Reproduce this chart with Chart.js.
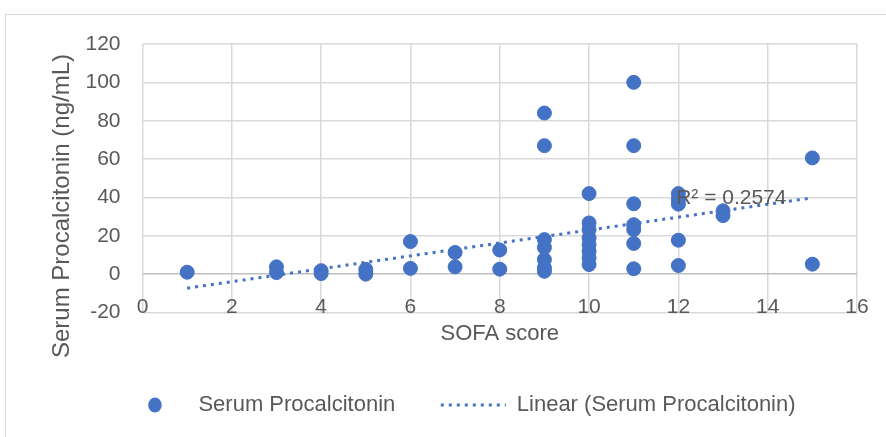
<!DOCTYPE html>
<html>
<head>
<meta charset="utf-8">
<script src="https://cdn.jsdelivr.net/npm/chart.js@4.4.1/dist/chart.umd.min.js"></script>
<style>
  html, body { margin: 0; padding: 0; background: #fff; overflow: hidden; }
  #frame { position: absolute; left: 5px; top: 14px; width: 900px; height: 450px; border: 1.5px solid #d9d9d9; }
  #wrap { position: absolute; left: 0; top: 0; width: 886px; height: 437px; }
</style>
</head>
<body>
<div id="frame"></div>
<div id="wrap"><canvas id="myGrafic" width="886" height="437"></canvas></div>
<script>
// SOFA score / procalcitonin pairs
let sofa = [1, 3, 3, 4, 4, 5, 5, 6, 6, 7, 7, 8, 8,
            9, 9, 9, 9, 9, 9, 9,
            10, 10, 10, 10, 10, 10, 10, 10,
            11, 11, 11, 11, 11, 11, 11,
            12, 12, 12, 12, 12, 13, 13, 15, 15];
let pct = [1, 3.8, 0.8, 1.8, 0.3, 2.5, 0, 17, 3, 11.3, 3.8, 12.6, 2.6,
           84, 67, 18, 13.9, 7.6, 3.3, 1.5,
           42, 26.7, 23.2, 18.9, 15.4, 11.9, 8.5, 5,
           100, 67, 36.7, 25.8, 23.2, 16, 2.8,
           42, 39, 36.5, 17.7, 4.5, 33, 30.5, 60.6, 5.2];
// trend line ends (x, y) as drawn
let trendX = [1, 15];
let trendY = [-7.3, 39.8];
let xTicks = [0, 16, 2];
let yTicks = [-20, 120, 20];
let r2Text = 'R² = 0.2574';
let r2At = [11.95, 39.5];

let blue = '#4472C4';
let grey = '#595959';
let fontFam = '"Liberation Sans", Arial, sans-serif';

let points = [];
for (let i in sofa) {
  points.push({x: sofa[i], y: pct[i]});
}
let trend = [];
for (let i in trendX) {
  trend.push({x: trendX[i], y: trendY[i]});
}

// small dot for the legend
let dot = document.createElement('canvas');
dot.width = 16; dot.height = 16;
let dc = dot.getContext('2d');
dc.fillStyle = blue;
dc.beginPath();
dc.ellipse(8, 8, 6.8, 7.5, 0, 0, Math.PI * 2);
dc.fill();

// extra texts: y axis title and the R² label
let extras = {
  id: 'extras',
  afterDraw(chart) {
    let ctx = chart.ctx;
    let xs = chart.scales.x, ys = chart.scales.y;
    ctx.save();
    ctx.fillStyle = grey;
    ctx.font = '21px ' + fontFam;
    ctx.textAlign = 'left';
    ctx.textBaseline = 'middle';
    ctx.fillText(r2Text, xs.getPixelForValue(r2At[0]), ys.getPixelForValue(r2At[1]));
    ctx.translate(62, 206);
    ctx.rotate(-Math.PI / 2);
    ctx.textAlign = 'center';
    ctx.font = '24px ' + fontFam;
    ctx.fillText('Serum Procalcitonin (ng/mL)', 0, 0);
    ctx.restore();
  }
};

let myChart = {
  type: 'scatter',
  data: {
    datasets: [{
      label: 'Linear (Serum Procalcitonin)',
      type: 'line',
      data: trend,
      borderColor: blue,
      borderWidth: 3,
      borderDash: [3, 5],
      pointRadius: 0,
      fill: false,
      order: 0
    }, {
      label: 'Serum Procalcitonin',
      data: points,
      backgroundColor: blue,
      borderColor: blue,
      pointRadius: 7,
      pointHoverRadius: 7,
      order: 1
    }]
  },
  options: {
    responsive: false,
    animation: false,
    layout: { padding: { left: 61, right: 29, top: 44, bottom: 11 } },
    plugins: {
      tooltip: { enabled: false },
      legend: {
        position: 'bottom',
        labels: {
          usePointStyle: true,
          pointStyleWidth: 65,
          padding: 45.5,
          color: grey,
          font: { family: fontFam, size: 22 },
          generateLabels() {
            return [{
              text: 'Serum Procalcitonin',
              pointStyle: dot,
              fillStyle: blue,
              strokeStyle: blue,
              lineWidth: 0,
              fontColor: grey
            }, {
              text: 'Linear (Serum Procalcitonin)',
              pointStyle: 'line',
              fillStyle: blue,
              strokeStyle: blue,
              lineWidth: 3,
              lineDash: [3, 5],
              fontColor: grey
            }];
          }
        }
      }
    },
    scales: {
      x: {
        type: 'linear',
        min: xTicks[0],
        max: xTicks[1],
        border: { display: false },
        grid: { color: '#d9d9d9', lineWidth: 1.5, drawTicks: false },
        // mirror keeps the labels from being clipped where they overlap the bottom line
        ticks: { stepSize: xTicks[2], mirror: true, padding: -7, color: grey, font: { family: fontFam, size: 21 } },
        title: { display: true, text: 'SOFA score', color: grey, font: { family: fontFam, size: 22 }, padding: { top: 0, bottom: 1 } },
        afterFit(scale) { scale.height = 36; }
      },
      y: {
        min: yTicks[0],
        max: yTicks[1],
        border: { display: false },
        grid: {
          color: (c) => c.tick && c.tick.value === 0 ? '#bfbfbf' : '#d9d9d9',
          lineWidth: 1.5,
          drawTicks: false
        },
        ticks: { stepSize: yTicks[2], padding: 22, color: grey, font: { family: fontFam, size: 21 } },
        afterFit(scale) { scale.width = 81.5; }
      }
    }
  },
  plugins: [extras]
};

var myGrafic = document.getElementById('myGrafic');
window.scatter = new Chart(myGrafic, myChart);
</script>
</body>
</html>
